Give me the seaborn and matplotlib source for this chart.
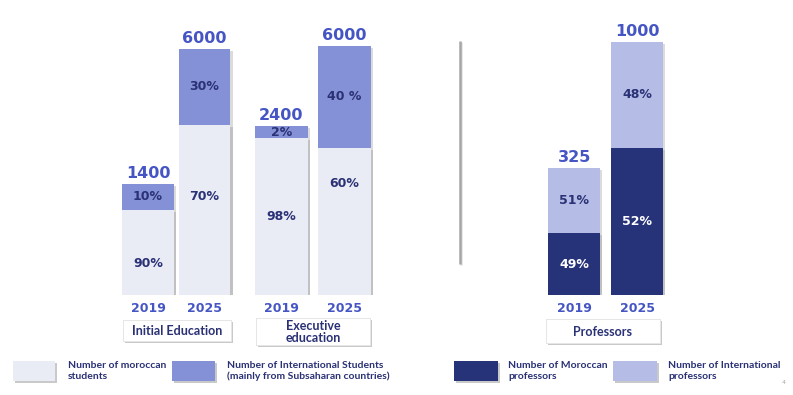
import matplotlib
matplotlib.use("Agg")
import matplotlib.pyplot as plt
import matplotlib.patheffects as pe
from matplotlib.patches import Rectangle
import seaborn as sns
import pandas as pd

# ---------------- data ----------------
years = ["2019", "2025"]
group_names = ["Initial Education", "Executive\neducation", "Professors"]
totals = [[1400, 6000], [2400, 6000], [325, 1000]]
top_pct = [["10%", "30%"], ["2%", "40 %"], ["51%", "48%"]]
bottom_pct = [["90%", "70%"], ["98%", "60%"], ["49%", "52%"]]
# drawn bar heights (chart is not to scale)
bar_height = [[111, 246], [169, 249], [127, 253]]
bottom_height = [[85, 170], [157, 147], [62, 147]]
legend_labels = ["Number of moroccan\nstudents",
                 "Number of International Students\n(mainly from Subsaharan countries)",
                 "Number of Moroccan\nprofessors",
                 "Number of International\nprofessors"]

# ---------------- style ----------------
LIGHT = "#E9EBF5"
MID = "#8591D6"
NAVY = "#263379"
LAV = "#B5BDE7"
BLUE = "#4556C4"
TXT = "#2A3175"
FONT = "DejaVu Sans"
LFONT = "Lato"

top_colors = [MID, MID, LAV]
bottom_colors = [LIGHT, LIGHT, NAVY]
pct_bottom_colors = [TXT, TXT, "white"]
bottom_label_frac = [[0.37, 0.58], [0.5, 0.76], [0.5, 0.5]]

W, H = 793, 395
sns.set_theme(style="white")
plt.rcParams["font.family"] = [FONT]
fig = plt.figure(figsize=(W / 100, H / 100), dpi=100)
fig.patch.set_facecolor("white")

# overlay axes in pixel coordinates for decorations
ov = fig.add_axes([0, 0, 1, 1], zorder=0)
ov.set_xlim(0, W)
ov.set_ylim(H, 0)
ov.axis("off")

baseline_px = 295
top_px = 30
# (left_px, right_px, width_fraction) per group axes
group_layout = [(119.75, 232.75, 0.92), (250, 376, 0.84), (542.75, 668.75, 0.83)]

shadow = [pe.withSimplePatchShadow(offset=(1.5, -1.5), shadow_rgbFace="#888888", alpha=0.3), pe.Normal()]

for g in range(3):
    l, r, wf = group_layout[g]
    ax = fig.add_axes([l / W, (H - baseline_px) / H, (r - l) / W, (baseline_px - top_px) / H], zorder=2)
    ax.patch.set_alpha(0)
    df = pd.DataFrame({"year": years, "total": bar_height[g], "bottom": bottom_height[g]})
    sns.barplot(data=df, x="year", y="total", ax=ax, color=top_colors[g], saturation=1,
                width=wf, errorbar=None)
    sns.barplot(data=df, x="year", y="bottom", ax=ax, color=bottom_colors[g], saturation=1,
                width=wf, errorbar=None)
    for p in ax.patches:
        p.set_path_effects(shadow)
        p.set_linewidth(0)
    ax.set_ylim(0, baseline_px - top_px)
    ax.set_xlim(-0.5, 1.5)
    ax.set_yticks([])
    ax.set_xlabel("")
    ax.set_ylabel("")
    sns.despine(ax=ax, left=True, bottom=True)
    ax.tick_params(axis="x", length=0, pad=5, labelcolor=BLUE, labelsize=9)
    for lbl in ax.get_xticklabels():
        lbl.set_fontweight("bold")
    for i in range(2):
        h = bar_height[g][i]
        b = bottom_height[g][i]
        ax.text(i, h + 3, f"{totals[g][i]}", ha="center", va="bottom", color=BLUE,
                fontsize=11.5, fontweight="bold")
        ax.text(i, (h + b) / 2, top_pct[g][i], ha="center", va="center", color=TXT,
                fontsize=9, fontweight="bold")
        ax.text(i, b * bottom_label_frac[g][i], bottom_pct[g][i], ha="center", va="center",
                color=pct_bottom_colors[g], fontsize=9, fontweight="bold")

# category boxes
cat_boxes = [(123, 320, 108, 21), (256, 318, 114, 27), (546, 319, 114, 24)]
for (x, y, w, h), name in zip(cat_boxes, group_names):
    rect = Rectangle((x, y), w, h, facecolor="white", edgecolor="#E4E4E4", linewidth=0.6)
    rect.set_path_effects([pe.withSimplePatchShadow(offset=(1.5, -1.5), shadow_rgbFace="#888888", alpha=0.45), pe.Normal()])
    ov.add_patch(rect)
    ov.text(x + w / 2, y + h / 2 + 0.5, name, ha="center", va="center", color=TXT,
            fontsize=9, fontweight="bold", linespacing=0.9, family=[LFONT, FONT])

# divider
ov.plot([460, 460], [41, 264], color="#A6A6A6", linewidth=1.8, solid_capstyle="butt",
        path_effects=[pe.SimpleLineShadow(offset=(1, -1), shadow_color="#cccccc", alpha=0.6), pe.Normal()])

# legend
sw_boxes = [(13, 361, 42, 20), (172, 361, 43, 20), (454, 361, 44, 20), (613, 361, 44, 20)]
sw_colors = [LIGHT, MID, NAVY, LAV]
text_x = [68, 227, 508, 668]
for (x, y, w, h), c, tx, lab in zip(sw_boxes, sw_colors, text_x, legend_labels):
    rect = Rectangle((x, y), w, h, facecolor=c, edgecolor="none")
    rect.set_path_effects([pe.withSimplePatchShadow(offset=(1.5, -1.5), shadow_rgbFace="#888888", alpha=0.45), pe.Normal()])
    ov.add_patch(rect)
    ov.text(tx, y + h / 2, lab, ha="left", va="center", color=TXT, fontsize=7.5,
            fontweight="bold", linespacing=1.3, family=[LFONT, FONT])

ov.text(784, 382, "4", ha="center", va="center", color="#AAAAAA", fontsize=4.5)

fig.savefig("out.png", dpi=100, facecolor="white")
